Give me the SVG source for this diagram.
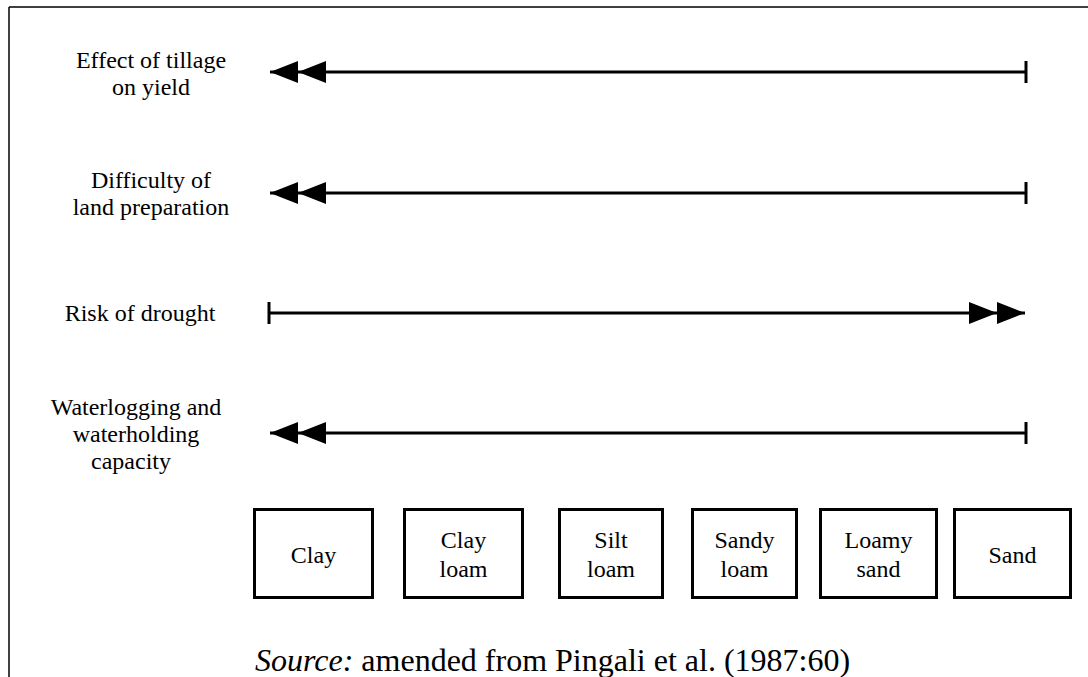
<svg xmlns="http://www.w3.org/2000/svg" width="1088" height="677" viewBox="0 0 1088 677">
  <style>
    .lbl { font-family: "Liberation Serif", "Times New Roman", serif; font-size: 24px; fill: #000; text-anchor: middle; }
    .src { font-family: "Liberation Serif", "Times New Roman", serif; font-size: 32px; fill: #000; }
    .box { fill: #fff; stroke: #000; stroke-width: 3; }
    .axis { stroke: #000; stroke-width: 3; fill: none; }
    .frame { stroke: #000; stroke-width: 1.5; fill: none; }
  </style>
  <defs>
    <marker id="dbl" markerUnits="userSpaceOnUse" viewBox="-58 -12 60 24" markerWidth="60" markerHeight="24" refX="0" refY="0" orient="auto-start-reverse" overflow="visible">
      <path d="M0,0 L-28,-11 L-28,11 Z M-28,0 L-56,-11 L-56,11 Z" fill="#000"/>
    </marker>
    <marker id="tick" markerUnits="userSpaceOnUse" viewBox="-3 -13 6 26" markerWidth="6" markerHeight="26" refX="0" refY="0" orient="auto" overflow="visible">
      <line x1="0" y1="-11" x2="0" y2="11" stroke="#000" stroke-width="3"/>
    </marker>
  </defs>

  <g id="frame">
    <line class="frame" x1="9" y1="7" x2="1088" y2="7"/>
    <line class="frame" x1="9" y1="7" x2="9" y2="677"/>
  </g>

  <g id="labels">
    <g id="label-tillage">
      <text class="lbl" x="151" y="68">Effect of tillage</text>
      <text class="lbl" x="151" y="95">on yield</text>
    </g>
    <g id="label-difficulty">
      <text class="lbl" x="151" y="188">Difficulty of</text>
      <text class="lbl" x="151" y="215">land preparation</text>
    </g>
    <g id="label-drought">
      <text class="lbl" x="140" y="321">Risk of drought</text>
    </g>
    <g id="label-waterlogging">
      <text class="lbl" x="136" y="415">Waterlogging and</text>
      <text class="lbl" x="136" y="442">waterholding</text>
      <text class="lbl" x="131" y="469">capacity</text>
    </g>
  </g>

  <g id="connectors">
    <path class="axis" d="M270,72 H1026" marker-start="url(#dbl)" marker-end="url(#tick)"/>
    <path class="axis" d="M270,193 H1026" marker-start="url(#dbl)" marker-end="url(#tick)"/>
    <path class="axis" d="M269,313 H1025" marker-start="url(#tick)" marker-end="url(#dbl)"/>
    <path class="axis" d="M270,433 H1026" marker-start="url(#dbl)" marker-end="url(#tick)"/>
  </g>

  <g id="node-clay">
    <rect class="box" x="254.5" y="509.5" width="118" height="88"/>
    <text class="lbl" x="313.5" y="563">Clay</text>
  </g>
  <g id="node-clay-loam">
    <rect class="box" x="404.5" y="509.5" width="118" height="88"/>
    <text class="lbl" x="463.5" y="548">Clay</text>
    <text class="lbl" x="463.5" y="577">loam</text>
  </g>
  <g id="node-silt-loam">
    <rect class="box" x="559.5" y="509.5" width="103" height="88"/>
    <text class="lbl" x="611" y="548">Silt</text>
    <text class="lbl" x="611" y="577">loam</text>
  </g>
  <g id="node-sandy-loam">
    <rect class="box" x="692.5" y="509.5" width="104" height="88"/>
    <text class="lbl" x="744.5" y="548">Sandy</text>
    <text class="lbl" x="744.5" y="577">loam</text>
  </g>
  <g id="node-loamy-sand">
    <rect class="box" x="820.5" y="509.5" width="116" height="88"/>
    <text class="lbl" x="878.5" y="548">Loamy</text>
    <text class="lbl" x="878.5" y="577">sand</text>
  </g>
  <g id="node-sand">
    <rect class="box" x="954.5" y="509.5" width="116" height="88"/>
    <text class="lbl" x="1012.5" y="563">Sand</text>
  </g>

  <g id="source">
    <text class="src" x="255" y="671"><tspan font-style="italic">Source:</tspan> amended from Pingali et al. (1987:60)</text>
  </g>
</svg>
